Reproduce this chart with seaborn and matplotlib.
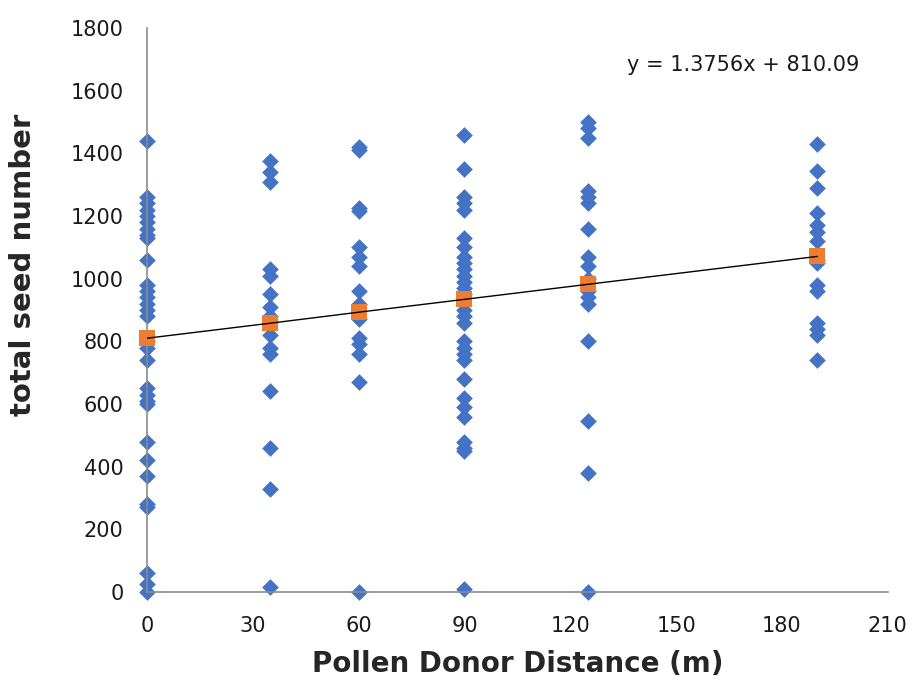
import pandas as pd
import seaborn as sns
import matplotlib.pyplot as plt

# seed counts, one list per donor distance (m)
distances = [0, 35, 60, 90, 125, 190]
seeds_0 = [1440, 1260, 1240, 1220, 1200, 1180, 1160, 1140, 1130, 1060, 980, 960,
           940, 920, 900, 880, 800, 780, 740, 650, 630, 610, 600, 480, 420, 370,
           280, 270, 60, 25, 0]
seeds_35 = [1375, 1340, 1310, 1030, 1010, 950, 910, 880, 860, 820, 780, 760,
            640, 460, 330, 15]
seeds_60 = [1420, 1410, 1225, 1215, 1100, 1070, 1040, 960, 920, 870, 810, 790,
            760, 670, 0]
seeds_90 = [1460, 1350, 1260, 1240, 1220, 1130, 1100, 1070, 1050, 1030, 1010,
            990, 970, 950, 900, 880, 860, 800, 780, 760, 740, 680, 620, 590, 560,
            480, 460, 450, 10]
seeds_125 = [1500, 1480, 1450, 1280, 1260, 1240, 1160, 1070, 1040, 1000, 960,
             940, 920, 800, 545, 380, 0]
seeds_190 = [1430, 1345, 1290, 1210, 1170, 1150, 1120, 1060, 1050, 980, 960,
             860, 840, 820, 740]
# fitted values shown as orange squares
fitted = [810, 858, 893, 934, 982, 1071]
equation = "y = 1.3756x + 810.09"

all_seeds = [seeds_0, seeds_35, seeds_60, seeds_90, seeds_125, seeds_190]
df = pd.DataFrame({
    "dist": [d for d, s in zip(distances, all_seeds) for _ in s],
    "seeds": [v for s in all_seeds for v in s],
})
fit_df = pd.DataFrame({"dist": distances, "seeds": fitted})

sns.set_style("white")
plt.rcParams["font.family"] = ["DejaVu Sans"]

fig = plt.figure(figsize=(9.19, 6.88), dpi=100)
ax = fig.add_axes([0.160, 0.1395, 0.806, 0.8198])

sns.scatterplot(data=df, x="dist", y="seeds", marker="D", s=72, color="#4472C4",
                linewidth=0, ax=ax, zorder=2)
sns.scatterplot(data=fit_df, x="dist", y="seeds", marker="s", s=130, color="#ED7D31",
                linewidth=0, ax=ax, zorder=4)
# trend line drawn over the squares like Excel does
sns.lineplot(data=fit_df, x="dist", y="seeds", color="black", linewidth=1.0,
             ax=ax, zorder=5)

ax.set_xlim(0, 210)
ax.set_ylim(0, 1800)
ax.set_xticks(range(0, 211, 30))
ax.set_yticks(range(0, 1801, 200))
for c in ax.collections:
    c.set_clip_on(False)

sns.despine(ax=ax)
for sp in ["left", "bottom"]:
    ax.spines[sp].set_color("#8c8c8c")
    ax.spines[sp].set_linewidth(1.2)
ax.tick_params(axis="both", direction="out", length=4.5, width=1, color="#8c8c8c",
               labelsize=15, labelcolor="#1a1a1a")
ax.tick_params(axis="x", pad=13)
ax.tick_params(axis="y", pad=12.5)

ax.set_xlabel("Pollen Donor Distance (m)", fontsize=20, fontweight="bold", labelpad=10)
ax.set_ylabel("total seed number", fontsize=21, fontweight="bold")
ax.yaxis.set_label_coords(-0.149, 0.58)
ax.text(136, 1682, equation, fontsize=15, va="center", ha="left", color="#1a1a1a")

fig.savefig("out.png", dpi=100)
